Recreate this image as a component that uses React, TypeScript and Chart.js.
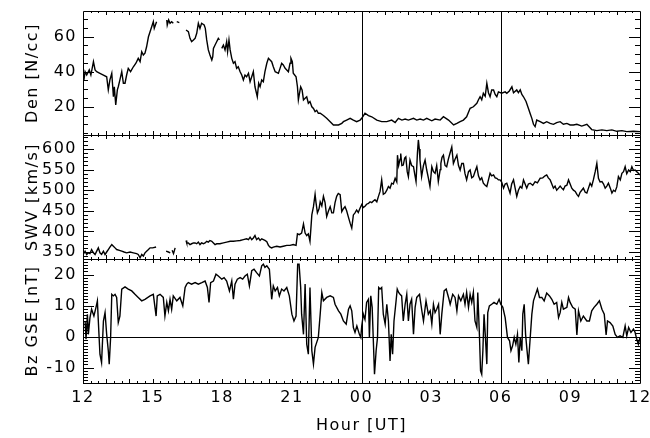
import { useEffect, useRef } from "react";
import { Chart, registerables } from "chart.js";

Chart.register(...registerables);

// Hours counted from 12 UT on the first day (0..24).
const hourTicks = [0, 3, 6, 9, 12, 15, 18, 21, 24];
const hourLabels = ["12", "15", "18", "21", "00", "03", "06", "09", "12"];
const markerHours = [12, 18]; // 00 UT and 06 UT

const denTicks = [20, 40, 60];
const swvTicks = [350, 400, 450, 500, 550, 600];
const bzTicks = [-10, 0, 10, 20];

const denRange = [3.9, 74.6];
const swvRange = [333, 634];
const bzRange = [-15, 25];

type Sample = [number, number | null];

// Proton density [N/cc]
const density: Sample[] = [
  [0.04, 35.3], [0.09, 40.0], [0.16, 38.1], [0.27, 41.0], [0.34, 38.1], [0.45, 45.7], [0.52, 41.0],
  [0.59, 40.0], [0.73, 39.1], [0.88, 38.1], [1.02, 37.1], [1.09, 29.6], [1.16, 35.3], [1.24, 39.1],
  [1.31, 25.7], [1.35, 31.4], [1.41, 21.0], [1.48, 29.6], [1.52, 31.4], [1.59, 35.3], [1.67, 40.0],
  [1.74, 33.4], [1.81, 33.4], [1.88, 38.1], [1.95, 41.9], [2.05, 40.0], [2.17, 42.8], [2.28, 44.8],
  [2.38, 47.6], [2.46, 45.7], [2.53, 51.4], [2.60, 49.5], [2.67, 50.5], [2.74, 54.2], [2.82, 59.9],
  [2.89, 62.8], [2.96, 65.6], [3.03, 68.5], [3.07, 64.7], [3.12, 66.6], [3.17, 68.5], [3.3, null],
  [3.61, 69.5], [3.63, 66.6], [3.69, 69.5], [3.75, 67.6], [3.82, 68.5], [3.89, 67.6], [3.95, null],
  [4.04, 68.5], [4.15, 68.0], [4.3, null],
  [4.44, 63.8], [4.54, 62.8], [4.61, 59.0], [4.68, 57.1], [4.76, 58.1], [4.83, 59.0], [4.90, 61.9],
  [4.97, 67.6], [5.04, 64.7], [5.11, 67.6], [5.22, 66.6], [5.27, 64.7], [5.33, 58.1], [5.40, 52.4],
  [5.47, 49.5], [5.55, 46.7], [5.59, 48.5], [5.62, 53.3], [5.69, 55.2], [5.76, 57.1], [5.83, 59.0],
  [5.88, 58.1], [5.93, null],
  [5.98, 53.3], [6.05, 55.2], [6.12, 52.4], [6.19, 57.1], [6.23, 51.4], [6.29, 58.1], [6.34, 52.4],
  [6.41, 47.6], [6.48, 44.8], [6.55, 45.7], [6.62, 41.9], [6.69, 42.8], [6.77, 40.0], [6.84, 38.1],
  [6.91, 35.3], [6.98, 38.1], [7.05, 37.1], [7.13, 39.1], [7.20, 34.3], [7.27, 37.1], [7.34, 40.0],
  [7.41, 31.4], [7.51, 25.7], [7.57, 33.4], [7.63, 31.4], [7.70, 35.3], [7.77, 34.3], [7.84, 40.0],
  [7.92, 44.8], [7.99, 47.6], [8.06, 46.7], [8.13, 45.7], [8.20, 42.8], [8.28, 40.0], [8.42, 39.1],
  [8.49, 41.9], [8.56, 44.8], [8.63, 43.8], [8.71, 41.9], [8.78, 41.0], [8.85, 40.0], [8.92, 44.8],
  [8.96, 47.6], [9.02, 45.7], [9.06, 39.1], [9.18, 37.1], [9.24, 31.4], [9.28, 23.9], [9.32, 27.0],
  [9.38, 31.4], [9.44, 29.6], [9.50, 23.9], [9.57, 24.8], [9.64, 25.7], [9.71, 22.0], [9.78, 23.0],
  [9.86, 20.0], [9.93, 19.0], [10.00, 17.2], [10.07, 18.0], [10.14, 16.3], [10.22, 16.3], [10.36, 15.0],
  [10.50, 13.4], [10.65, 11.5], [10.79, 9.6], [11.01, 9.6], [11.15, 10.5], [11.22, 11.5], [11.36, 12.4],
  [11.51, 13.4], [11.65, 12.4], [11.79, 11.5], [11.94, 12.4], [12.01, 13.4], [12.15, 16.3], [12.30, 15.0],
  [12.44, 14.3], [12.66, 12.4], [12.87, 11.5], [13.09, 11.5], [13.30, 12.4], [13.45, 11.0], [13.59, 13.4],
  [13.74, 12.4], [13.88, 13.0], [14.02, 12.4], [14.24, 13.4], [14.38, 12.4], [14.53, 13.0], [14.67, 12.4],
  [14.81, 13.4], [15.03, 12.0], [15.17, 13.0], [15.39, 12.4], [15.53, 14.3], [15.75, 12.4], [15.97, 9.6],
  [16.11, 10.5], [16.25, 11.5], [16.39, 12.4], [16.53, 14.3], [16.68, 19.1], [16.82, 20.0], [16.97, 22.0],
  [17.04, 24.0], [17.11, 25.7], [17.18, 24.0], [17.25, 27.7], [17.33, 26.0], [17.40, 33.4], [17.47, 28.0],
  [17.54, 25.7], [17.61, 29.6], [17.69, 29.6], [17.76, 27.0], [17.83, 25.7], [17.90, 28.5], [18.04, 27.7],
  [18.19, 28.5], [18.26, 27.7], [18.37, 29.0], [18.48, 31.4], [18.55, 28.0], [18.69, 29.6], [18.76, 28.0],
  [18.84, 29.6], [18.91, 27.0], [18.98, 25.7], [19.09, 23.0], [19.19, 19.1], [19.27, 16.0], [19.34, 13.4],
  [19.41, 10.0], [19.48, 8.7], [19.55, 12.4], [19.70, 11.5], [19.84, 10.5], [19.98, 11.5], [20.13, 10.5],
  [20.27, 10.0], [20.41, 11.0], [20.56, 11.5], [20.70, 10.0], [20.85, 10.5], [20.99, 9.6], [21.13, 9.6],
  [21.28, 10.0], [21.49, 9.0], [21.71, 10.0], [21.85, 8.0], [21.92, 7.0], [22.14, 6.4], [22.36, 6.8],
  [22.57, 6.4], [22.79, 6.8], [23.00, 6.0], [23.22, 6.4], [23.43, 5.8], [23.72, 6.0], [24.00, 5.8],
];

// Solar wind speed [km/s]
const speed: Sample[] = [
  [0.01, 344], [0.09, 352], [0.16, 344], [0.23, 348], [0.30, 346], [0.37, 356], [0.45, 348], [0.52, 344],
  [0.59, 352], [0.66, 360], [0.73, 348], [0.80, 344], [0.88, 352], [0.95, 344], [1.02, 350], [1.09, 356],
  [1.16, 362], [1.24, 368], [1.31, 364], [1.38, 360], [1.45, 356], [1.57, 354], [1.67, 352], [1.77, 350],
  [1.88, 348], [2.03, 350], [2.17, 348], [2.31, 346], [2.38, 344], [2.46, 336], [2.53, 344], [2.60, 340],
  [2.67, 348], [2.74, 352], [2.82, 356], [2.89, 360], [3.00, 360], [3.15, 362], [3.3, null],
  [3.58, 352], [3.68, 350], [3.76, 348], [3.80, null], [3.84, 354], [3.90, 346], [3.97, 360], [4.1, null],
  [4.44, 378], [4.47, 372], [4.54, 372], [4.61, 368], [4.68, 370], [4.76, 372], [4.83, 372], [4.90, 370],
  [4.97, 374], [5.04, 368], [5.11, 372], [5.19, 370], [5.26, 372], [5.33, 376], [5.40, 374], [5.47, 378],
  [5.55, 376], [5.62, 372], [5.69, 368], [5.76, 370], [5.90, 370], [6.05, 372], [6.19, 374], [6.34, 376],
  [6.48, 376], [6.62, 377], [6.77, 378], [6.91, 380], [7.05, 382], [7.13, 380], [7.20, 386], [7.27, 380],
  [7.34, 384], [7.41, 390], [7.48, 380], [7.56, 384], [7.63, 378], [7.70, 382], [7.77, 380], [7.84, 378],
  [7.92, 375], [7.99, 366], [8.06, 362], [8.13, 360], [8.20, 362], [8.35, 364], [8.49, 362], [8.63, 364],
  [8.78, 366], [8.92, 366], [9.06, 368], [9.18, 366], [9.24, 394], [9.32, 392], [9.42, 396], [9.50, 418],
  [9.57, 396], [9.64, 390], [9.71, 394], [9.78, 376], [9.86, 440], [9.93, 460], [10.00, 490], [10.04, 470],
  [10.10, 445], [10.17, 455], [10.22, 472], [10.29, 462], [10.36, 485], [10.43, 470], [10.50, 436],
  [10.58, 450], [10.65, 460], [10.72, 445], [10.79, 445], [10.86, 470], [10.93, 485], [11.00, 492],
  [11.08, 489], [11.15, 448], [11.22, 455], [11.29, 460], [11.36, 450], [11.43, 436], [11.51, 420],
  [11.58, 408], [11.65, 440], [11.72, 445], [11.79, 452], [11.86, 446], [11.94, 457], [12.01, 465],
  [12.08, 458], [12.15, 461], [12.22, 466], [12.30, 468], [12.37, 472], [12.44, 470], [12.51, 474],
  [12.58, 477], [12.66, 472], [12.73, 485], [12.80, 497], [12.87, 525], [12.94, 490], [13.02, 493],
  [13.09, 500], [13.16, 509], [13.23, 505], [13.30, 517], [13.37, 515], [13.45, 529], [13.52, 520],
  [13.55, 585], [13.60, 560], [13.66, 575], [13.69, 589], [13.74, 560], [13.80, 561], [13.86, 578],
  [13.91, 581], [13.97, 545], [14.02, 533], [14.09, 573], [14.16, 560], [14.24, 557], [14.29, 540],
  [14.35, 521], [14.41, 590], [14.45, 622], [14.49, 600], [14.52, 573], [14.59, 533], [14.67, 560],
  [14.74, 573], [14.81, 549], [14.88, 530], [14.95, 509], [15.03, 557], [15.10, 545], [15.17, 541],
  [15.24, 560], [15.31, 521], [15.39, 550], [15.42, 565], [15.47, 580], [15.53, 585], [15.60, 560],
  [15.67, 557], [15.74, 575], [15.81, 589], [15.89, 605], [15.96, 565], [16.03, 575], [16.11, 585],
  [16.18, 560], [16.25, 549], [16.32, 565], [16.39, 565], [16.46, 540], [16.53, 525], [16.61, 545],
  [16.68, 549], [16.75, 530], [16.82, 533], [16.89, 545], [16.97, 557], [17.04, 535], [17.11, 525],
  [17.18, 530], [17.25, 517], [17.33, 512], [17.40, 509], [17.47, 525], [17.54, 541], [17.61, 535],
  [17.69, 537], [17.76, 530], [17.83, 529], [17.90, 525], [17.97, 525], [18.04, 520], [18.12, 505],
  [18.19, 515], [18.26, 517], [18.33, 505], [18.40, 493], [18.47, 515], [18.55, 525], [18.62, 505],
  [18.69, 485], [18.76, 500], [18.84, 509], [18.91, 505], [18.98, 525], [19.05, 515], [19.12, 505],
  [19.19, 515], [19.27, 517], [19.38, 512], [19.48, 521], [19.58, 518], [19.70, 529], [19.81, 530],
  [19.91, 535], [19.98, 537], [20.05, 530], [20.13, 525], [20.20, 515], [20.27, 505], [20.34, 510],
  [20.41, 500], [20.49, 505], [20.56, 510], [20.63, 505], [20.70, 501], [20.77, 510], [20.85, 512],
  [20.92, 525], [20.99, 515], [21.06, 505], [21.13, 500], [21.21, 497], [21.28, 490], [21.35, 485],
  [21.42, 495], [21.49, 500], [21.56, 505], [21.64, 495], [21.71, 493], [21.78, 505], [21.85, 517],
  [21.92, 510], [21.99, 525], [22.07, 545], [22.14, 565], [22.21, 529], [22.28, 520], [22.36, 521],
  [22.43, 515], [22.50, 505], [22.57, 510], [22.64, 517], [22.72, 505], [22.79, 493], [22.86, 500],
  [22.93, 497], [23.00, 508], [23.07, 533], [23.15, 525], [23.22, 541], [23.29, 545], [23.36, 557],
  [23.43, 540], [23.51, 549], [23.58, 545], [23.65, 557], [23.72, 548], [23.79, 549], [23.86, 545],
  [23.93, 541], [24.00, 537],
];

// IMF Bz in GSE [nT]
const bz: Sample[] = [
  [0.09, 5.0], [0.13, -0.9], [0.19, 7.2], [0.23, 0.7], [0.30, 6.1], [0.37, 8.8], [0.47, 6.6], [0.56, 9.4],
  [0.62, 11.5], [0.66, 5.0], [0.73, -5.7], [0.80, -8.4], [0.88, 5.0], [0.95, 7.7], [1.02, 0.7], [1.09, -4.6],
  [1.13, -8.9], [1.19, -0.3], [1.24, 13.6], [1.31, 13.1], [1.38, 13.6], [1.45, 12.6], [1.52, 4.5],
  [1.59, 6.6], [1.67, 15.3], [1.81, 16.0], [1.95, 15.3], [2.10, 14.7], [2.24, 13.6], [2.38, 12.6],
  [2.53, 11.5], [2.67, 12.0], [2.89, 13.1], [3.03, 13.6], [3.15, 6.6], [3.20, 13.1], [3.32, 13.6],
  [3.46, 12.6], [3.53, 6.6], [3.61, 11.0], [3.68, 8.3], [3.75, 12.0], [3.82, 8.8], [3.89, 13.1],
  [4.04, 11.5], [4.18, 12.6], [4.30, 9.9], [4.40, 15.8], [4.47, 16.9], [4.54, 17.4], [4.68, 16.9],
  [4.83, 17.4], [4.97, 16.9], [5.12, 17.4], [5.26, 17.9], [5.36, 15.8], [5.43, 11.0], [5.50, 17.4],
  [5.62, 17.9], [5.73, 20.1], [5.83, 19.5], [5.98, 18.5], [6.08, 19.0], [6.19, 17.9], [6.31, 14.7],
  [6.41, 17.9], [6.48, 12.0], [6.55, 16.9], [6.65, 18.5], [6.77, 19.0], [6.88, 18.5], [6.98, 19.5],
  [7.08, 20.1], [7.17, 16.3], [7.27, 21.2], [7.37, 21.7], [7.48, 20.6], [7.60, 19.5], [7.70, 22.8],
  [7.77, 23.3], [7.84, 22.3], [7.92, 22.8], [8.03, 21.7], [8.13, 12.0], [8.20, 16.3], [8.28, 14.7],
  [8.38, 15.8], [8.46, 13.1], [8.56, 15.3], [8.66, 14.7], [8.78, 15.8], [8.89, 13.1], [9.00, 7.2],
  [9.09, 5.0], [9.18, 6.6], [9.25, 23.3], [9.31, 23.3], [9.38, 15.8], [9.42, 7.2], [9.50, 0.7],
  [9.57, 16.9], [9.64, -2.5], [9.71, -5.7], [9.78, 15.8], [9.86, -4.6], [9.93, -8.9], [10.00, -3.5],
  [10.07, -1.9], [10.14, -0.3], [10.22, 7.2], [10.29, 14.2], [10.36, 11.5], [10.50, 12.6], [10.65, 13.1],
  [10.79, 12.6], [10.86, 10.4], [11.01, 8.3], [11.11, 7.2], [11.22, 5.0], [11.34, 4.0], [11.44, 8.8],
  [11.51, 9.9], [11.58, 8.3], [11.65, 2.9], [11.72, 1.3], [11.80, 3.4], [11.91, 0.7], [11.97, -0.3],
  [12.01, 3.4], [12.08, 7.2], [12.15, 5.5], [12.22, 11.0], [12.30, 12.0], [12.34, -0.3], [12.40, 13.1],
  [12.46, 9.4], [12.51, -1.4], [12.56, -12.2], [12.63, -4.6], [12.69, -0.3], [12.74, 15.8], [12.80, 15.3],
  [12.87, 15.8], [12.94, 7.2], [13.02, 4.0], [13.09, 10.4], [13.16, 5.0], [13.23, -7.9], [13.28, 0.7],
  [13.34, -5.7], [13.40, 5.0], [13.49, 11.5], [13.54, 15.3], [13.60, 14.2], [13.66, 13.6], [13.73, 13.1],
  [13.80, 5.0], [13.88, 10.4], [13.95, 13.6], [14.02, 5.0], [14.09, 10.4], [14.16, 12.0], [14.24, 0.7],
  [14.31, 9.4], [14.38, 12.6], [14.50, 13.6], [14.60, 8.3], [14.67, 5.0], [14.78, 11.5], [14.88, 7.2],
  [14.96, 8.3], [15.03, 4.0], [15.10, 10.4], [15.17, 7.7], [15.24, 8.8], [15.32, 10.4], [15.39, 0.7],
  [15.46, 7.2], [15.56, 14.7], [15.65, 15.3], [15.75, 12.6], [15.82, 10.4], [15.93, 13.6], [16.03, 12.6],
  [16.11, 8.3], [16.18, 13.1], [16.28, 11.5], [16.39, 13.6], [16.46, 10.4], [16.53, 14.2], [16.61, 9.4],
  [16.68, 13.6], [16.75, 11.0], [16.82, 14.2], [16.89, 5.0], [16.97, 2.9], [17.01, 14.2], [17.08, 0.7],
  [17.13, -11.1], [17.18, -12.2], [17.23, -4.6], [17.28, 7.2], [17.34, -0.3], [17.40, -8.9], [17.44, 7.7],
  [17.51, 9.9], [17.61, 10.4], [17.71, 11.0], [17.83, 10.4], [17.93, 12.0], [18.00, 10.4], [18.09, 9.4],
  [18.19, 6.1], [18.29, -0.3], [18.38, -1.4], [18.44, -4.6], [18.51, -3.0], [18.58, -0.3], [18.65, -2.5],
  [18.72, 0.7], [18.78, -8.4], [18.84, -0.3], [18.91, -4.6], [18.95, 7.2], [19.01, 10.4], [19.07, 0.7],
  [19.12, -3.5], [19.19, -8.9], [19.27, -0.3], [19.34, 7.2], [19.41, 11.5], [19.48, 13.1], [19.58, 15.3],
  [19.67, 12.6], [19.77, 12.6], [19.87, 11.5], [19.98, 14.0], [20.10, 13.1], [20.20, 12.0], [20.30, 10.4],
  [20.41, 11.0], [20.49, 6.1], [20.56, 7.7], [20.63, 11.0], [20.70, 8.8], [20.85, 9.4], [20.92, 12.6],
  [20.99, 11.0], [21.10, 9.4], [21.21, 8.8], [21.28, 0.5], [21.35, 8.3], [21.45, 5.0], [21.56, 6.6],
  [21.71, 5.0], [21.82, 5.0], [21.92, 8.3], [22.02, 9.4], [22.14, 10.4], [22.25, 11.5], [22.36, 8.8],
  [22.46, 7.2], [22.54, 0.5], [22.60, 5.0], [22.71, 4.5], [22.83, 3.4], [22.93, 0.7], [23.03, -0.3],
  [23.14, 0.2], [23.26, -0.3], [23.36, 3.4], [23.43, 0.2], [23.51, 2.9], [23.61, 1.3], [23.72, 2.4],
  [23.79, 1.3], [23.86, -0.9], [23.93, -2.5], [24.00, -0.3],
];

const FONT = "'DejaVu Sans', sans-serif";

// Frame, inward tick marks, the 00/06 UT markers and the Bz zero line.
const panelDecor = {
  id: "panelDecor",
  beforeDraw(chart: any) {
    chart.ctx.letterSpacing = "1.5px";
  },
  afterDatasetsDraw(chart: any) {
    const { ctx, chartArea } = chart;
    const xs = chart.scales.x;
    const left = chartArea.left;
    const right = chartArea.right;
    const panels = [
      { id: "yDen", minor: 5, majors: denTicks },
      { id: "yV", minor: 10, majors: swvTicks },
      { id: "yBz", minor: 1, majors: bzTicks },
    ];
    const snap = (v: number) => Math.round(v) + 0.5;
    ctx.save();
    ctx.letterSpacing = "0px";
    ctx.strokeStyle = "#000";
    ctx.lineWidth = 1;
    ctx.beginPath();
    for (const p of panels) {
      const s = chart.scales[p.id];
      const top = s.top;
      const bottom = s.bottom;
      // frame
      ctx.moveTo(snap(left), snap(top));
      ctx.lineTo(snap(right), snap(top));
      ctx.lineTo(snap(right), snap(bottom));
      ctx.lineTo(snap(left), snap(bottom));
      ctx.closePath();
      // minor y ticks
      const first = Math.ceil(s.min / p.minor);
      const last = Math.floor(s.max / p.minor);
      for (let k = first; k <= last; k++) {
        const v = k * p.minor;
        const y = snap(s.getPixelForValue(v));
        const len = p.majors.includes(v) ? 11 : 5;
        ctx.moveTo(left, y);
        ctx.lineTo(left + len, y);
        ctx.moveTo(right, y);
        ctx.lineTo(right - len, y);
      }
      // x ticks every 20 min, longer every hour
      for (let k = 1; k < 72; k++) {
        const x = snap(xs.getPixelForValue(k / 3));
        const len = k % 3 === 0 ? 4 : 2;
        ctx.moveTo(x, top);
        ctx.lineTo(x, top + len);
        ctx.moveTo(x, bottom);
        ctx.lineTo(x, bottom - len);
      }
    }
    // time markers
    for (const h of markerHours) {
      const x = snap(xs.getPixelForValue(h));
      ctx.moveTo(x, chartArea.top);
      ctx.lineTo(x, chartArea.bottom);
    }
    // zero line in the Bz panel
    const y0 = snap(chart.scales.yBz.getPixelForValue(0));
    ctx.moveTo(left, y0);
    ctx.lineTo(right, y0);
    ctx.stroke();
    ctx.restore();
  },
};

function yAxis(range: number[], ticks: number[], title: string) {
  return {
    type: "linear" as const,
    position: "left" as const,
    stack: "panels",
    stackWeight: 1,
    min: range[0],
    max: range[1],
    grid: { display: false, drawTicks: false },
    border: { display: false },
    afterBuildTicks: (scale: any) => {
      scale.ticks = ticks.map((value) => ({ value }));
    },
    afterFit: (scale: any) => {
      scale.width = 83;
      scale.paddingTop = 0;
      scale.paddingBottom = 0;
    },
    ticks: {
      autoSkip: false,
      padding: 6,
      color: "#000",
      font: { family: FONT, size: 16 },
      callback: (v: any) => String(v),
    },
    title: {
      display: true,
      text: title,
      color: "#000",
      font: { family: FONT, size: 16 },
      padding: { top: 23, bottom: 0 },
    },
  };
}

function toPoints(samples: Sample[]) {
  return samples.map(([x, y]) => ({ x, y }));
}

export default function App() {
  const canvasRef = useRef<HTMLCanvasElement | null>(null);

  useEffect(() => {
    if (!canvasRef.current) return;
    const line = {
      borderColor: "#000",
      borderWidth: 1.4,
      pointRadius: 0,
      tension: 0,
      spanGaps: false,
      fill: false,
    };
    const chart = new Chart(canvasRef.current, {
      type: "line",
      data: {
        datasets: [
          { ...line, label: "Den", data: toPoints(density), yAxisID: "yDen" },
          { ...line, label: "SWV", data: toPoints(speed), yAxisID: "yV" },
          { ...line, label: "Bz", data: toPoints(bz), yAxisID: "yBz" },
        ],
      },
      options: {
        responsive: false,
        animation: false,
        events: [],
        layout: { padding: { top: 11, right: 10, left: 0, bottom: 0 } },
        plugins: { legend: { display: false }, tooltip: { enabled: false } },
        scales: {
          x: {
            type: "linear",
            min: 0,
            max: 24,
            grid: { display: false, drawTicks: false },
            border: { display: false },
            afterBuildTicks: (scale: any) => {
              scale.ticks = hourTicks.map((value) => ({ value }));
            },
            afterFit: (scale: any) => {
              scale.height = 55;
              scale.paddingLeft = 0;
              scale.paddingRight = 0;
            },
            ticks: {
              autoSkip: false,
              maxRotation: 0,
              padding: 5,
              color: "#000",
              font: { family: FONT, size: 16 },
              callback: (_v: any, i: number) => hourLabels[i],
            },
            title: {
              display: true,
              text: "Hour [UT]",
              color: "#000",
              font: { family: FONT, size: 16 },
              padding: { top: 0, bottom: 3 },
            },
          },
          yBz: yAxis(bzRange, bzTicks, "Bz GSE [nT]"),
          yV: yAxis(swvRange, swvTicks, "SWV [km/s]"),
          yDen: yAxis(denRange, denTicks, "Den [N/cc]"),
        } as any,
      },
      plugins: [panelDecor],
    });
    return () => chart.destroy();
  }, []);

  return (
    <div style={{ position: "absolute", left: 0, top: 0, width: 650, height: 438, background: "#fff" }}>
      <canvas ref={canvasRef} width={650} height={438} style={{ display: "block" }} />
    </div>
  );
}
